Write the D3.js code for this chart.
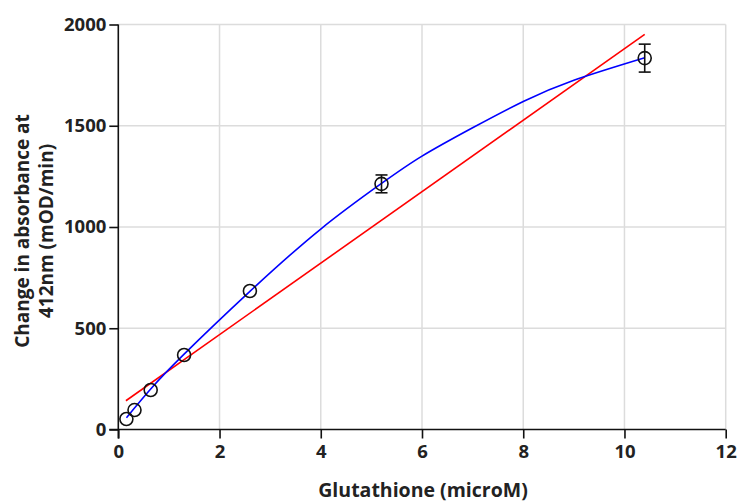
<!DOCTYPE html>
<html>
<head>
<meta charset="utf-8">
<script src="https://cdn.jsdelivr.net/npm/d3@7"></script>
<style>
  body { margin: 0; background: #fff; }
  text { font-family: "Open Sans", sans-serif; font-weight: bold; fill: #222; }
</style>
</head>
<body>
<div id="chart"></div>
<script>
// measured points (glutathione in microM, rate in mOD/min)
const concentrations = [0.16, 0.32, 0.64, 1.3, 2.6, 5.2, 10.4];
const rates = [52, 96, 195, 368, 684, 1213, 1834];
const errors = [0, 0, 0, 0, 0, 44, 69];

// blue fitted curve
const fitX = [0.16, 0.64, 1.3, 2.6, 4, 5.2, 6, 7, 8, 9, 10.4];
const fitY = [58, 200, 372, 682, 990, 1215, 1350, 1490, 1620, 1725, 1836];

// red linear fit, end points
const linX = [0.15, 10.4];
const linY = [142, 1951];

const xTicks = [0, 2, 4, 6, 8, 10, 12];
const yTicks = [0, 500, 1000, 1500, 2000];

const W = 738, H = 503;
const margin = { top: 24.5, right: 12.3, bottom: 73.5, left: 118.3 };
const width = W - margin.left - margin.right;
const height = H - margin.top - margin.bottom;

const x = d3.scaleLinear().domain([0, 12]).range([0, width]);
const y = d3.scaleLinear().domain([0, 2000]).range([height, 0]);

const svg = d3.select('#chart').append('svg')
    .attr('width', W)
    .attr('height', H);

const g = svg.append('g')
    .attr('transform', `translate(${margin.left},${margin.top})`);

// grid
g.append('g').selectAll('line')
    .data(xTicks.filter(d => d > 0))
    .enter().append('line')
    .attr('x1', d => x(d)).attr('x2', d => x(d))
    .attr('y1', 0).attr('y2', height)
    .attr('stroke', '#dcdcdc').attr('stroke-width', 1.5);

g.append('g').selectAll('line')
    .data(yTicks.filter(d => d > 0))
    .enter().append('line')
    .attr('y1', d => y(d)).attr('y2', d => y(d))
    .attr('x1', 0).attr('x2', width)
    .attr('stroke', '#dcdcdc').attr('stroke-width', 1.5);

// axes
const xAxis = g.append('g')
    .attr('transform', `translate(0,${height})`)
    .call(d3.axisBottom(x).tickValues(xTicks).tickFormat(d3.format('d'))
        .tickSize(9).tickPadding(6).tickSizeOuter(0));

const yAxis = g.append('g')
    .call(d3.axisLeft(y).tickValues(yTicks).tickFormat(d3.format('d'))
        .tickSize(9).tickPadding(3).tickSizeOuter(0));

[xAxis, yAxis].forEach(a => {
    a.select('.domain').attr('stroke', '#111').attr('stroke-width', 1.6);
    a.selectAll('.tick line').attr('stroke', '#111').attr('stroke-width', 1.6);
    a.selectAll('.tick text')
        .style('font-family', '"Open Sans", sans-serif')
        .style('font-weight', 'bold')
        .style('font-size', '18.5px')
        .attr('fill', '#222');
});

// extend axis lines past the origin, as the ticks do
xAxis.select('.domain').attr('d', `M-9,0H${width}`);
yAxis.select('.domain').attr('d', `M0,0V${height + 9}`);

// red linear fit
const lin = linX.map((d, i) => [d, linY[i]]);
g.append('path')
    .datum(lin)
    .attr('fill', 'none')
    .attr('stroke', '#ff0000')
    .attr('stroke-width', 1.6)
    .attr('d', d3.line().x(d => x(d[0])).y(d => y(d[1])));

// blue fitted curve
const fit = fitX.map((d, i) => [d, fitY[i]]);
g.append('path')
    .datum(fit)
    .attr('fill', 'none')
    .attr('stroke', '#0000ff')
    .attr('stroke-width', 1.6)
    .attr('d', d3.line().curve(d3.curveNatural).x(d => x(d[0])).y(d => y(d[1])));

// error bars
const pts = concentrations.map((d, i) => ({ x: d, y: rates[i], e: errors[i] }));
const eb = g.append('g').selectAll('g')
    .data(pts.filter(d => d.e > 0))
    .enter().append('g')
    .attr('stroke', '#111').attr('stroke-width', 1.6);
eb.append('line')
    .attr('x1', d => x(d.x)).attr('x2', d => x(d.x))
    .attr('y1', d => y(d.y + d.e)).attr('y2', d => y(d.y - d.e));
eb.append('line')
    .attr('x1', d => x(d.x) - 6).attr('x2', d => x(d.x) + 6)
    .attr('y1', d => y(d.y + d.e)).attr('y2', d => y(d.y + d.e));
eb.append('line')
    .attr('x1', d => x(d.x) - 6).attr('x2', d => x(d.x) + 6)
    .attr('y1', d => y(d.y - d.e)).attr('y2', d => y(d.y - d.e));

// data points
g.append('g').selectAll('circle')
    .data(pts)
    .enter().append('circle')
    .attr('cx', d => x(d.x))
    .attr('cy', d => y(d.y))
    .attr('r', 6.5)
    .attr('fill', 'none')
    .attr('stroke', '#111')
    .attr('stroke-width', 1.6);

// axis titles
svg.append('text')
    .attr('x', 423)
    .attr('y', 497)
    .attr('text-anchor', 'middle')
    .style('font-size', '19.5px')
    .text('Glutathione (microM)');

const yt = svg.append('text')
    .attr('transform', 'translate(29,231) rotate(-90)')
    .attr('text-anchor', 'middle')
    .style('font-size', '19px');
yt.append('tspan').attr('x', 0).attr('y', 0).text('Change in absorbance at');
yt.append('tspan').attr('x', 0).attr('y', 24).text('412nm (mOD/min)');
</script>
</body>
</html>
